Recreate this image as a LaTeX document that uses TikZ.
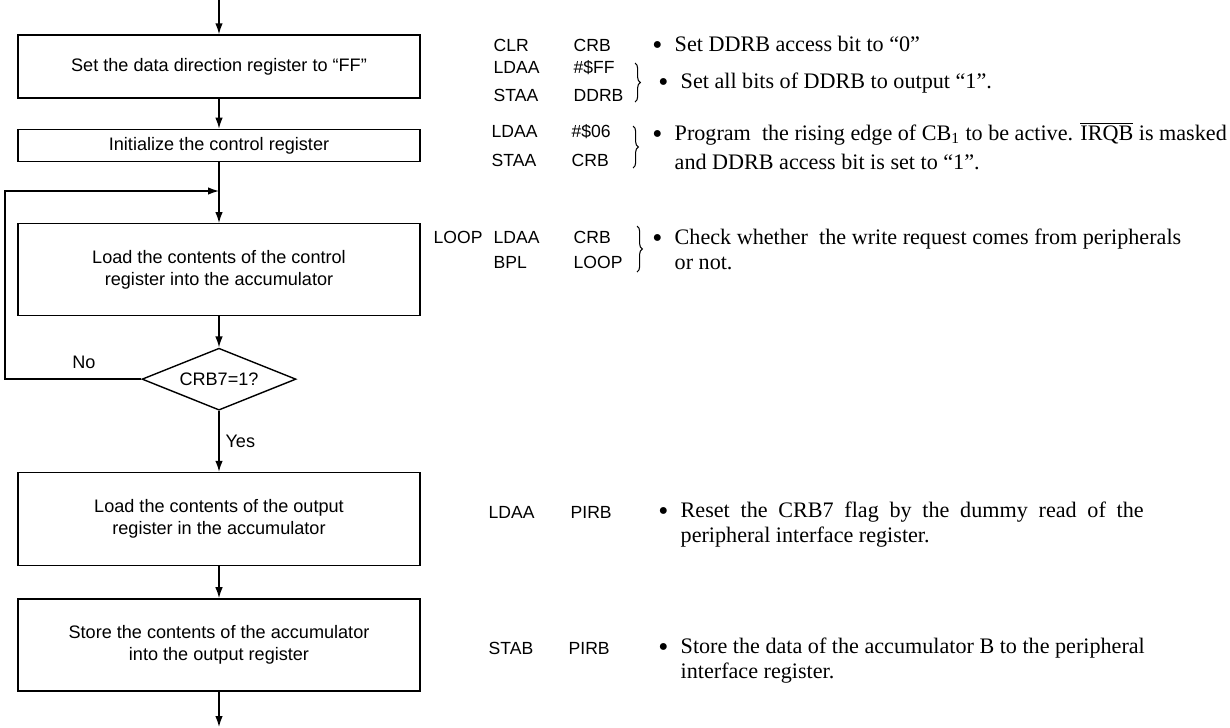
\documentclass[tikz,border=0pt]{standalone}
\usepackage{fontspec}
\setmainfont{Liberation Serif}
\setsansfont{Liberation Sans}
\usetikzlibrary{arrows.meta,positioning,shapes.geometric,decorations.pathreplacing}

\newcommand{\dotmark}{\llap{\raisebox{-0.28ex}{\scalebox{1.3}{\textbullet}}\hspace{7pt}}}

\begin{document}
\begin{tikzpicture}[
  x=0.02cm, y=-0.02cm,
  >={Latex[length=2.2mm,width=1.5mm]},
  line width=0.8pt,
  box/.style={draw, minimum width=8.04cm, align=center, inner sep=2pt, font=\sffamily\fontsize{10.3}{12.5}\selectfont},
  test/.style={draw, diamond, aspect=2.5, inner sep=0pt, minimum width=3.08cm, minimum height=1.24cm, font=\sffamily\fontsize{10.3}{12.5}\selectfont},
  lbl/.style={font=\sffamily\fontsize{10.3}{12.5}\selectfont},
  code/.style={anchor=west, inner sep=0pt, font=\sffamily\fontsize{10}{12}\selectfont},
  note/.style={anchor=west, inner sep=0pt, align=left, font=\fontsize{12.6}{14.5}\selectfont},
  brc/.style={decorate, decoration={brace, amplitude=3pt}, line width=0.6pt}
]
\useasboundingbox (0,0) rectangle (1230,727);

% flow chart
\node[box, minimum height=1.26cm] (s1) at (219,66.5) {Set the data direction register to “FF”};
\node[box, minimum height=0.64cm, below=0.6cm of s1] (s2) {Initialize the control register};
\node[box, minimum height=1.84cm, below=1.22cm of s2] (s3) {Load the contents of the control\\register into the accumulator};
\node[test, below=0.62cm of s3] (d1) {CRB7=1?};
\node[box, minimum height=1.86cm, below=1.22cm of d1] (s4) {Load the contents of the output\\register in the accumulator};
\node[box, minimum height=1.84cm, below=0.64cm of s4] (s5) {Store the contents of the accumulator\\into the output register};

\coordinate (top) at (219,0);
\coordinate (end) at (219,727);
\coordinate (jn) at (219,191);
\coordinate (lp) at (5,191);

\draw[->] (top) -- (s1);
\draw[->] (s1) -- (s2);
\draw[->] (s2) -- (s3);
\draw[->] (s3) -- (d1);
\draw[->] (d1) -- node[lbl, right] {Yes} (s4);
\draw[->] (s4) -- (s5);
\draw[->] (s5) -- (end);
\draw[->] (d1.west) -| (lp) -- (jn);
\node[lbl] (no) at (84,362) {No};

% program
\node[code] (c1) at (493,45) {\makebox[1.6cm][l]{CLR}CRB};
\node[code] (c2) at (493,68) {\makebox[1.6cm][l]{LDAA}\#\$FF};
\node[code] (c3) at (493,95) {\makebox[1.6cm][l]{STAA}DDRB};
\node[code] (c4) at (491,132) {\makebox[1.6cm][l]{LDAA}\#\$06};
\node[code] (c5) at (491,160) {\makebox[1.6cm][l]{STAA}CRB};
\node[code] (c6) at (433,237) {\makebox[1.2cm][l]{LOOP}\makebox[1.6cm][l]{LDAA}CRB};
\node[code] (c7) at (493,262) {\makebox[1.6cm][l]{BPL}LOOP};
\node[code] (c8) at (488,512) {\makebox[1.64cm][l]{LDAA}PIRB};
\node[code] (c9) at (488,648) {\makebox[1.6cm][l]{STAB}PIRB};

\draw[brc] (635,63) -- (635,102);
\draw[brc] (633,126) -- (633,168);
\draw[brc] (637,226) -- (637,272);

% comments
\node[note] (n1) at (674,45) {\dotmark Set DDRB access bit to “0”};
\node[note] (n2) at (680,83) {\dotmark Set all bits of DDRB to output “1”.};
\node[note] (n3) at (674,146) {\dotmark Program\ \ the rising edge of CB\textsubscript{1} to be active. $\overline{\mbox{IRQB}}$ is masked\\[1.7pt]and DDRB access bit is set to “1”.};
\node[note] (n4) at (674,249.5) {\dotmark Check whether\ \ the write request comes from peripherals\\or not.};
\node[note] (n5) at (680,524.5) {\dotmark\makebox[9.26cm][s]{Reset the CRB7 flag by the dummy read of the}\\peripheral interface register.};
\node[note] (n6) at (680,660.5) {\dotmark Store the data of the accumulator B to the peripheral\\interface register.};

\end{tikzpicture}
\end{document}
